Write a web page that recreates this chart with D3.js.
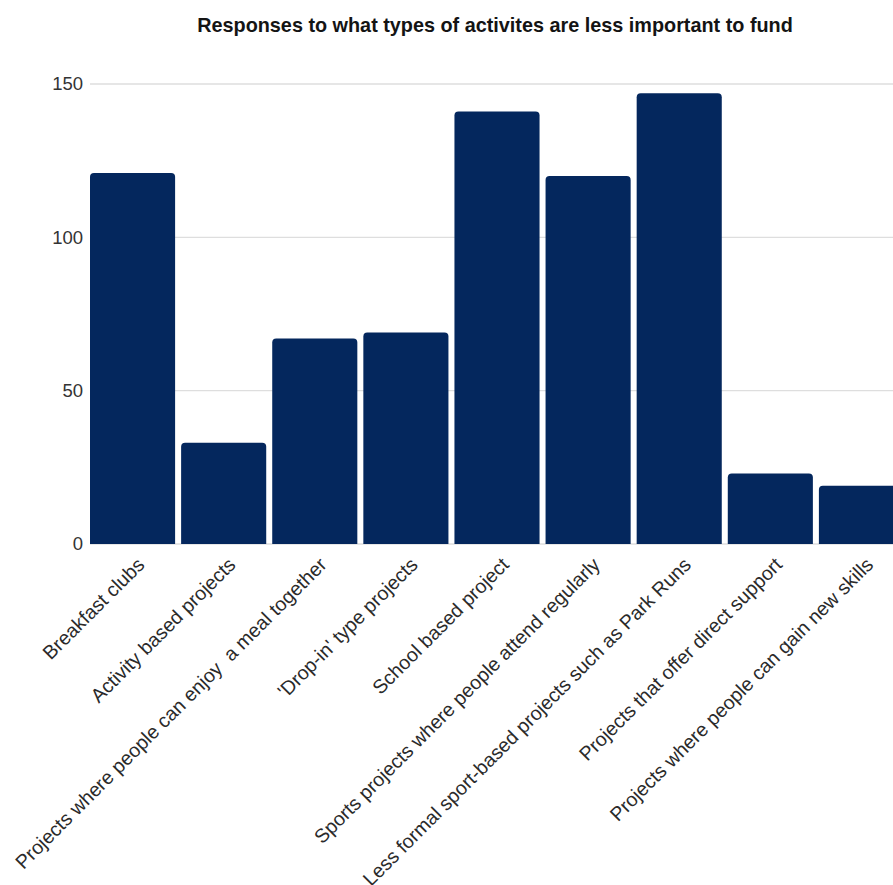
<!DOCTYPE html>
<html><head><meta charset="utf-8">
<script src="https://cdn.jsdelivr.net/npm/d3@7"></script>
<style>
html,body{margin:0;padding:0;background:#fff;overflow:hidden;}
svg{display:block;}
</style></head>
<body>
<svg id="chart" width="893" height="885"></svg>
<script>
const title = "Responses to what types of activites are less important to fund";
const categories = [
  "Breakfast clubs",
  "Activity based projects",
  "Projects where people can enjoy  a meal together",
  "'Drop-in' type projects",
  "School based project",
  "Sports projects where people attend regularly",
  "Less formal sport-based projects such as Park Runs",
  "Projects that offer direct support",
  "Projects where people can gain new skills"
];
const values = [121, 33, 67, 69, 141, 120, 147, 23, 19];
const yTicks = [0, 50, 100, 150];

const svg = d3.select("#chart");
const plotLeft = 87, plotRight = 907, plotTop = 84, plotBottom = 544;
const font = "'Liberation Sans', Arial, sans-serif";

const x = d3.scaleBand().domain(categories).range([plotLeft, plotRight]).paddingInner(0.066).paddingOuter(0.033);
const y = d3.scaleLinear().domain([0, 150]).range([plotBottom, plotTop]);

const t = svg.append("text")
  .attr("x", 495).attr("y", 31.5)
  .attr("text-anchor", "middle")
  .attr("font-family", font)
  .attr("font-weight", "bold")
  .attr("font-size", 19.5)
  .attr("fill", "#141414")
  .text(title);
// fit title to the reference width
const tw = t.node().getComputedTextLength();
if (tw > 0) t.attr("font-size", 19.5 * 596 / tw);

// gridlines
svg.append("g").selectAll("line").data(yTicks).join("line")
  .attr("x1", 90).attr("x2", 893)
  .attr("y1", d => y(d)).attr("y2", d => y(d))
  .attr("stroke", "#dedede").attr("stroke-width", 1.3);

// y axis labels
const yAxis = d3.axisLeft(y).tickValues(yTicks).tickSize(0).tickPadding(0);
const yg = svg.append("g").attr("transform", `translate(83,0)`).call(yAxis);
yg.select(".domain").remove();
yg.selectAll("text")
  .attr("font-family", font)
  .attr("font-size", 18.5)
  .attr("fill", "#333");

// bars with rounded top corners
const r = 4;
function barPath(d, i) {
  const x0 = x(categories[i]), w = x.bandwidth();
  const y0 = y(d), y1 = y(0);
  return `M${x0},${y1}V${y0 + r}Q${x0},${y0} ${x0 + r},${y0}H${x0 + w - r}Q${x0 + w},${y0} ${x0 + w},${y0 + r}V${y1}Z`;
}
svg.append("g").selectAll("path").data(values).join("path")
  .attr("d", (d, i) => barPath(d, i))
  .attr("fill", "#04275d");

// x labels
const xAxis = d3.axisBottom(x).tickSize(0).tickPadding(0);
const xg = svg.append("g").attr("transform", `translate(0,${plotBottom})`).call(xAxis);
xg.select(".domain").remove();
xg.selectAll(".tick text")
  .attr("font-family", font)
  .attr("font-size", 19.6)
  .attr("fill", "#2a2a2a")
  .attr("text-anchor", "end")
  .attr("dy", "0")
  .attr("y", 0)
  .style("white-space", "pre")
  .attr("transform", "translate(13,22) rotate(-45)");
</script>
</body></html>
